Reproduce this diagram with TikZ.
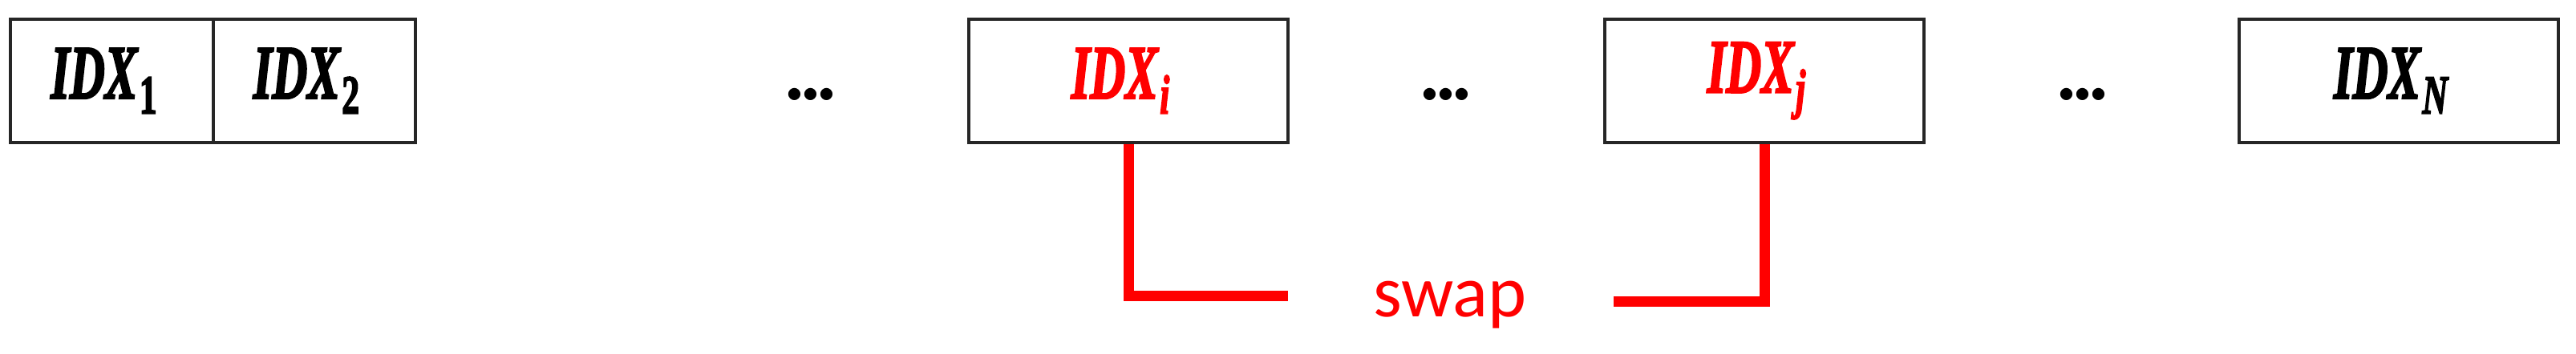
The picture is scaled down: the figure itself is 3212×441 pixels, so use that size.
\documentclass[tikz,border=0pt]{standalone}
\usepackage{graphicx}
\usepackage{fontspec}
\newfontfamily\swapfont{Carlito}
\newfontfamily\idxfont[FakeBold=3]{Liberation Serif}
\newcommand\idxlabel[3][black]{\textcolor{#1}{\scalebox{0.64}[1]{\idxfont\bfseries\itshape\fontsize{27}{31}\selectfont IDX\kern0.04em\raisebox{-0.2em}{\fontsize{19.5}{22}\selectfont#3{#2}}}\kern0.2cm}}
\newcommand\dotsrow{.\kern-0.12em.\kern-0.12em.}
\begin{document}
\begin{tikzpicture}[x=0.01cm,y=-0.01cm,
  cell/.style={draw=black!85, line width=1.2pt, minimum height=1.54cm, inner sep=0pt},
  link/.style={draw=red, line width=3.7pt},
  dotsnode/.style={font=\fontsize{30}{36}\selectfont\bfseries, anchor=base, inner sep=0pt},
  swaplabel/.style={font=\swapfont\fontsize{26}{30}\selectfont, text=red, anchor=base, inner sep=0pt}]
\useasboundingbox (0,0) rectangle (3212,441);
\node[cell, minimum width=2.53cm] (b1) at (139.5,101) {\idxlabel{1}{\upshape}};
\node[cell, minimum width=2.52cm] (b2) at (392,101) {\idxlabel{2}{\upshape}};
\node[cell, minimum width=3.98cm] (bi) at (1407,101) {\idxlabel[red]{i}{}};
\node[cell, minimum width=3.98cm] (bj) at (2200,101) {\idxlabel[red]{j}{}};
\node[cell, minimum width=3.98cm] (bN) at (2991,101) {\idxlabel{N}{}};
\node[dotsnode] (d1) at (1011,125) {\dotsrow};
\node[dotsnode] (d2) at (1803,125) {\dotsrow};
\node[dotsnode] (d3) at (2597,125) {\dotsrow};
\node[swaplabel] (sw) at (1808,395) {swap};
\coordinate (ei) at (1606,369);
\coordinate (ej) at (2012,376);
\draw[link] (bi.south) |- (ei);
\draw[link] (bj.south) |- (ej);
\end{tikzpicture}
\end{document}
